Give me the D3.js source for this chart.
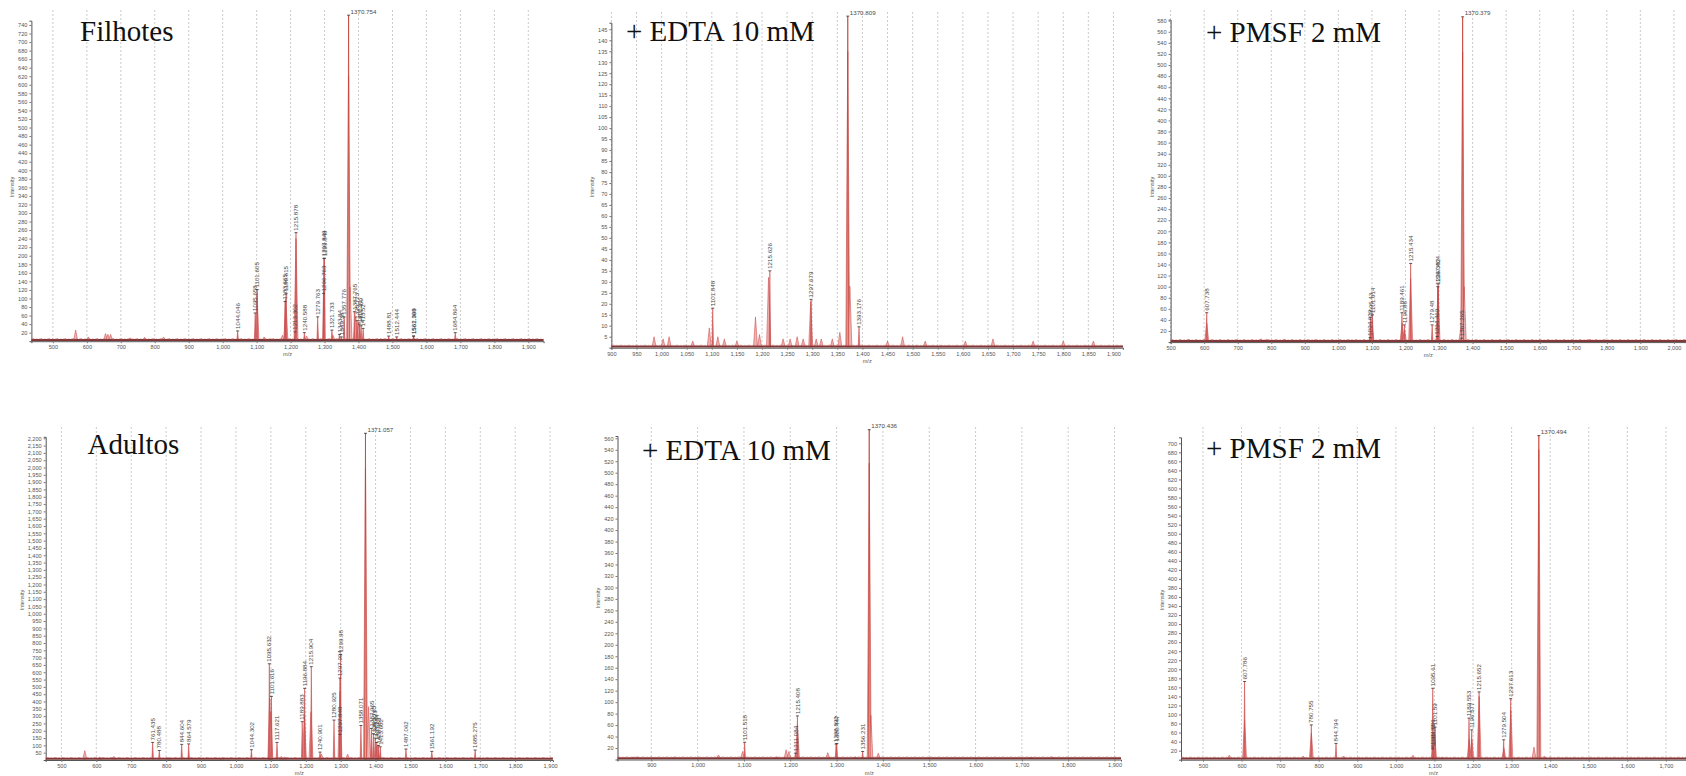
<!DOCTYPE html>
<html>
<head>
<meta charset="utf-8">
<script src="https://cdn.jsdelivr.net/npm/d3@7"></script>
<style>
  body { margin: 0; background: #fff; }
  svg text { font-family: "Liberation Sans", Arial, sans-serif; }
  .tick text { fill: #555; }
  .title { font-family: "Liberation Serif", "DejaVu Serif", serif; fill: #111; }
</style>
</head>
<body>
<script>
// panel order: top row left->right, then bottom row
var titles = ['Filhotes', '+ EDTA 10 mM', '+ PMSF 2 mM', 'Adultos', '+ EDTA 10 mM', '+ PMSF 2 mM'];

var xDomains = [[436.7, 1945], [900, 1919], [500, 2036], [455, 1908], [827, 1914], [443, 1752]];
var yMaxes = [750, 148, 582, 2210, 564, 713];
// [first, last, step]
var xTickSpecs = [[500, 1900, 100], [900, 1900, 50], [500, 2000, 100], [500, 1900, 100], [900, 1900, 100], [500, 1700, 100]];
var yTickSpecs = [[20, 740, 20], [5, 145, 5], [20, 580, 20], [50, 2200, 50], [20, 560, 20], [20, 700, 20]];

// labelled peaks [m/z, intensity]; the label is the m/z itself
var filhotesPeaks = [
  [1044.046, 24], [1095.658, 66], [1101.605, 121], [1183.665, 93], [1186.615, 112],
  [1213.302, 22], [1215.878, 254], [1240.588, 20], [1279.763, 57], [1296.763, 112],
  [1297.849, 194], [1299.848, 194], [1321.733, 26], [1343.84, 16], [1349.38, 10],
  [1357.776, 57], [1387.765, 69], [1395.723, 48], [1402.71, 40], [1407.469, 36],
  [1413.52, 30], [1488.81, 12], [1512.444, 10], [1561.969, 12], [1562.398, 12], [1684.864, 20]
];
var edtaJovemPeaks = [[1101.848, 18], [1215.626, 35], [1297.679, 22], [1393.176, 9.5]];
var pmsfJovemPeaks = [
  [607.738, 53], [1094.629, 8], [1095.43, 45], [1101.614, 49], [1189.461, 53], [1196.88, 31],
  [1215.434, 142], [1279.48, 31], [1294.469, 10], [1296.382, 100], [1297.404, 105], [1367.265, 7]
];
var adultosPeaks = [
  [761.435, 120], [780.488, 65], [844.604, 107], [864.579, 110], [1044.302, 70],
  [1095.632, 658], [1101.616, 435], [1117.621, 120], [1189.883, 262], [1196.884, 490],
  [1215.904, 638], [1240.901, 54], [1280.925, 273], [1297.848, 175], [1297.994, 560],
  [1299.98, 722], [1358.071, 236], [1387.965, 216], [1393.763, 180], [1398.923, 150],
  [1403.284, 120], [1408.453, 100], [1413.662, 90], [1487.062, 75], [1561.192, 59], [1685.275, 68]
];
var edtaAdultoPeaks = [[1101.518, 30], [1211.084, 11], [1215.408, 76], [1298.892, 27], [1300.447, 28], [1356.231, 14]];
var pmsfAdultoPeaks = [
  [607.786, 173], [780.755, 77], [844.794, 36], [1094.626, 28], [1095.23, 24], [1095.61, 158],
  [1101.59, 72], [1189.553, 92], [1196.577, 66], [1215.652, 150], [1279.504, 44], [1297.613, 135]
];

// base peak of each spectrum [m/z, intensity]
var basePeaks = [[1370.754, 763], [1370.809, 151], [1370.379, 587], [1371.057, 2234], [1370.436, 575], [1370.494, 717]];

// unlabelled profile signal and noise bumps [m/z, intensity]
var filhotesBumps = [
  [1370.754, 620], [1375, 127], [1215.878, 240], [1186, 100], [1101, 112], [1392, 60], [1400, 45],
  [567, 26], [604, 10], [655, 18], [662, 16], [670, 16], [728, 8], [770, 9], [826, 10],
  [1122, 10], [1140, 6], [1176, 14], [1247, 12], [1325, 14], [1465, 6], [1690, 6]
];
var edtaJovemBumps = [
  [1370.809, 135], [1375, 28], [1095, 9], [1187, 14], [1195, 6], [1112, 5], [1213, 32], [1297, 21],
  [985, 5], [1003, 4], [1015, 5], [1062, 3], [1125, 4], [1150, 3], [1242, 4], [1256, 4],
  [1270, 5], [1282, 4], [1308, 4], [1318, 4], [1340, 4], [1355, 7], [1450, 3], [1480, 5],
  [1525, 3], [1605, 3], [1660, 4], [1740, 3], [1800, 3], [1860, 3]
];
var pmsfJovemBumps = [
  [1370.379, 524], [1375, 100], [607.7, 34], [1100, 40], [1190, 34], [1197, 22], [1215.4, 115],
  [1365, 25], [1297, 100], [555, 5], [770, 6], [785, 5], [840, 5], [930, 4], [1040, 4], [1480, 4], [1750, 5]
];
var adultosBumps = [
  [1371.057, 1995], [1380, 365], [1097, 420], [1100, 330], [1196, 300], [1215, 330], [1298, 470],
  [567, 64], [610, 20], [650, 25], [810, 15], [960, 12], [1130, 25], [1140, 20], [1245, 40], [1320, 40], [1405, 100]
];
var edtaAdultoBumps = [
  [1370.436, 517], [1374, 77], [1097, 14], [1191, 17], [1197, 14], [1215.4, 60], [1281, 12], [1390, 11],
  [1045, 8], [860, 4], [870, 5], [950, 4], [1170, 5], [1340, 5], [1500, 3], [1720, 4], [1765, 5]
];
var pmsfAdultoBumps = [
  [1370.494, 686], [607.8, 88], [780.8, 58], [1100, 60], [1190, 45], [1197, 45], [1215.7, 140], [1298, 110],
  [1280, 25], [1358, 28], [1385, 8], [568, 10], [760, 8], [865, 8], [1044, 10], [1120, 6]
];

var peakSets = [filhotesPeaks, edtaJovemPeaks, pmsfJovemPeaks, adultosPeaks, edtaAdultoPeaks, pmsfAdultoPeaks];
var bumpSets = [filhotesBumps, edtaJovemBumps, pmsfJovemBumps, adultosBumps, edtaAdultoBumps, pmsfAdultoBumps];

// pixel layout of each panel
var layout = [
  { x0: 31.4,   x1: 543.6, yBase: 341.2, yTop: 20.7,  gridTop: 10,  titleX: 80,   titleY: 40.7,  yLabelX: 14,     yLabelY: 187 },
  { x0: 611.4,  x1: 1123,  yBase: 347.7, yTop: 22.7,  gridTop: 12,  titleX: 626,  titleY: 40.7,  yLabelX: 594,    yLabelY: 187 },
  { x0: 1170.6, x1: 1686,  yBase: 342.1, yTop: 19.6,  gridTop: 10,  titleX: 1206, titleY: 41.7,  yLabelX: 1154,   yLabelY: 187 },
  { x0: 45.7,   x1: 552.9, yBase: 760,   yTop: 436.8, gridTop: 427, titleX: 87.5, titleY: 454.3, yLabelX: 24.3,   yLabelY: 600 },
  { x0: 617.5,  x1: 1121,  yBase: 759.5, yTop: 436,   gridTop: 427, titleX: 642,  titleY: 460,   yLabelX: 599.6,  yLabelY: 598 },
  { x0: 1181,   x1: 1686,  yBase: 759.7, yTop: 437.4, gridTop: 427, titleX: 1206, titleY: 457.7, yLabelX: 1163.7, yLabelY: 600 }
];

var svg = d3.select('body').append('svg')
    .attr('width', 1686)
    .attr('height', 776);

function peakPath(x, y, yBase, d, hw) {
  var px = x(d[0]);
  return 'M' + (px - hw) + ',' + yBase + 'L' + px + ',' + y(d[1]) + 'L' + (px + hw) + ',' + yBase + 'Z';
}

layout.forEach(function(L, i) {
  var x = d3.scaleLinear().domain(xDomains[i]).range([L.x0, L.x1]);
  var y = d3.scaleLinear().domain([0, yMaxes[i]]).range([L.yBase, L.yTop]);
  var xt = xTickSpecs[i], yt = yTickSpecs[i];
  var xTicks = d3.range(xt[0], xt[1] + 1, xt[2]);
  var yTicks = d3.range(yt[0], yt[1] + 1, yt[2]);

  var g = svg.append('g').attr('class', 'panel');

  // dashed grid
  g.selectAll('line.grid')
      .data(xTicks)
      .enter()
      .append('line')
      .attr('class', 'grid')
      .attr('x1', function(d) { return x(d); })
      .attr('x2', function(d) { return x(d); })
      .attr('y1', L.gridTop)
      .attr('y2', L.yBase)
      .attr('stroke', '#b5b5b5')
      .attr('stroke-width', 0.7)
      .attr('stroke-dasharray', '2,2');

  // axes
  var xAxis = g.append('g')
      .attr('transform', 'translate(0,' + L.yBase + ')')
      .call(d3.axisBottom(x).tickValues(xTicks).tickFormat(d3.format(',')).tickSize(2).tickPadding(2));
  var yAxis = g.append('g')
      .attr('transform', 'translate(' + L.x0 + ',0)')
      .call(d3.axisLeft(y).tickValues(yTicks).tickFormat(d3.format(',')).tickSize(2).tickPadding(2));
  [xAxis, yAxis].forEach(function(a) {
    a.selectAll('text').attr('font-size', 5.6).attr('font-family', 'Liberation Sans');
    a.selectAll('line').attr('stroke', '#777');
    a.select('.domain').attr('stroke', '#555');
  });

  g.append('text')
      .attr('x', (L.x0 + L.x1) / 2)
      .attr('y', L.yBase + 15)
      .attr('text-anchor', 'middle')
      .attr('font-size', 5.6)
      .attr('fill', '#555')
      .text('m/z');
  g.append('text')
      .attr('transform', 'translate(' + L.yLabelX + ',' + L.yLabelY + ') rotate(-90)')
      .attr('text-anchor', 'middle')
      .attr('font-size', 5.6)
      .attr('fill', '#555')
      .text('Intensity');

  // profile / noise bumps
  g.selectAll('path.bump')
      .data(bumpSets[i])
      .enter()
      .append('path')
      .attr('class', 'bump')
      .attr('d', function(d) { return peakPath(x, y, L.yBase - 1, d, 2); })
      .attr('fill', '#eeb4b4')
      .attr('stroke', '#cc4a4a')
      .attr('stroke-width', 0.55);

  // labelled peaks
  var peaks = peakSets[i];
  g.selectAll('path.peak')
      .data(peaks)
      .enter()
      .append('path')
      .attr('class', 'peak')
      .attr('d', function(d) { return peakPath(x, y, L.yBase - 1, d, 0.8); })
      .attr('fill', '#d86a6a')
      .attr('stroke', '#c43c3c')
      .attr('stroke-width', 0.5);

  // base peak: thin line to the apex
  var bp = basePeaks[i];
  g.append('path')
      .attr('d', peakPath(x, y, L.yBase - 1, bp, 0.9))
      .attr('fill', '#eeb4b4')
      .attr('stroke', '#c0392b')
      .attr('stroke-width', 0.7);

  // baseline noise band
  g.append('line')
      .attr('x1', L.x0)
      .attr('x2', L.x1)
      .attr('y1', L.yBase - 1.2)
      .attr('y2', L.yBase - 1.2)
      .attr('stroke', '#7e3636')
      .attr('stroke-width', 2);
  g.append('line')
      .attr('x1', L.x0)
      .attr('x2', L.x1)
      .attr('y1', L.yBase - 2.4)
      .attr('y2', L.yBase - 2.4)
      .attr('stroke', '#d27070')
      .attr('stroke-width', 0.8)
      .attr('stroke-dasharray', '3,2,1,2');

  // peak labels
  var lab = g.selectAll('g.lab')
      .data(peaks)
      .enter()
      .append('g')
      .attr('class', 'lab')
      .attr('transform', function(d) { return 'translate(' + x(d[0]) + ',' + y(d[1]) + ')'; });
  lab.append('line')
      .attr('x1', -1.5).attr('x2', 1.5)
      .attr('stroke', '#333')
      .attr('stroke-width', 0.8);
  lab.append('text')
      .attr('transform', 'rotate(-90)')
      .attr('x', 2)
      .attr('dy', '0.35em')
      .attr('font-size', 6.2)
      .attr('fill', '#4a4a4a')
      .text(function(d) { return d[0]; });

  g.append('line')
      .attr('x1', x(bp[0]) - 1.5).attr('x2', x(bp[0]) + 1.5)
      .attr('y1', y(bp[1])).attr('y2', y(bp[1]))
      .attr('stroke', '#333')
      .attr('stroke-width', 0.8);
  g.append('text')
      .attr('x', x(bp[0]) + 2)
      .attr('y', y(bp[1]) - 1.5)
      .attr('font-size', 6.2)
      .attr('fill', '#4a4a4a')
      .text(bp[0]);

  g.append('text')
      .attr('class', 'title')
      .attr('x', L.titleX)
      .attr('y', L.titleY)
      .attr('font-size', 29)
      .text(titles[i]);
});
</script>
</body>
</html>
